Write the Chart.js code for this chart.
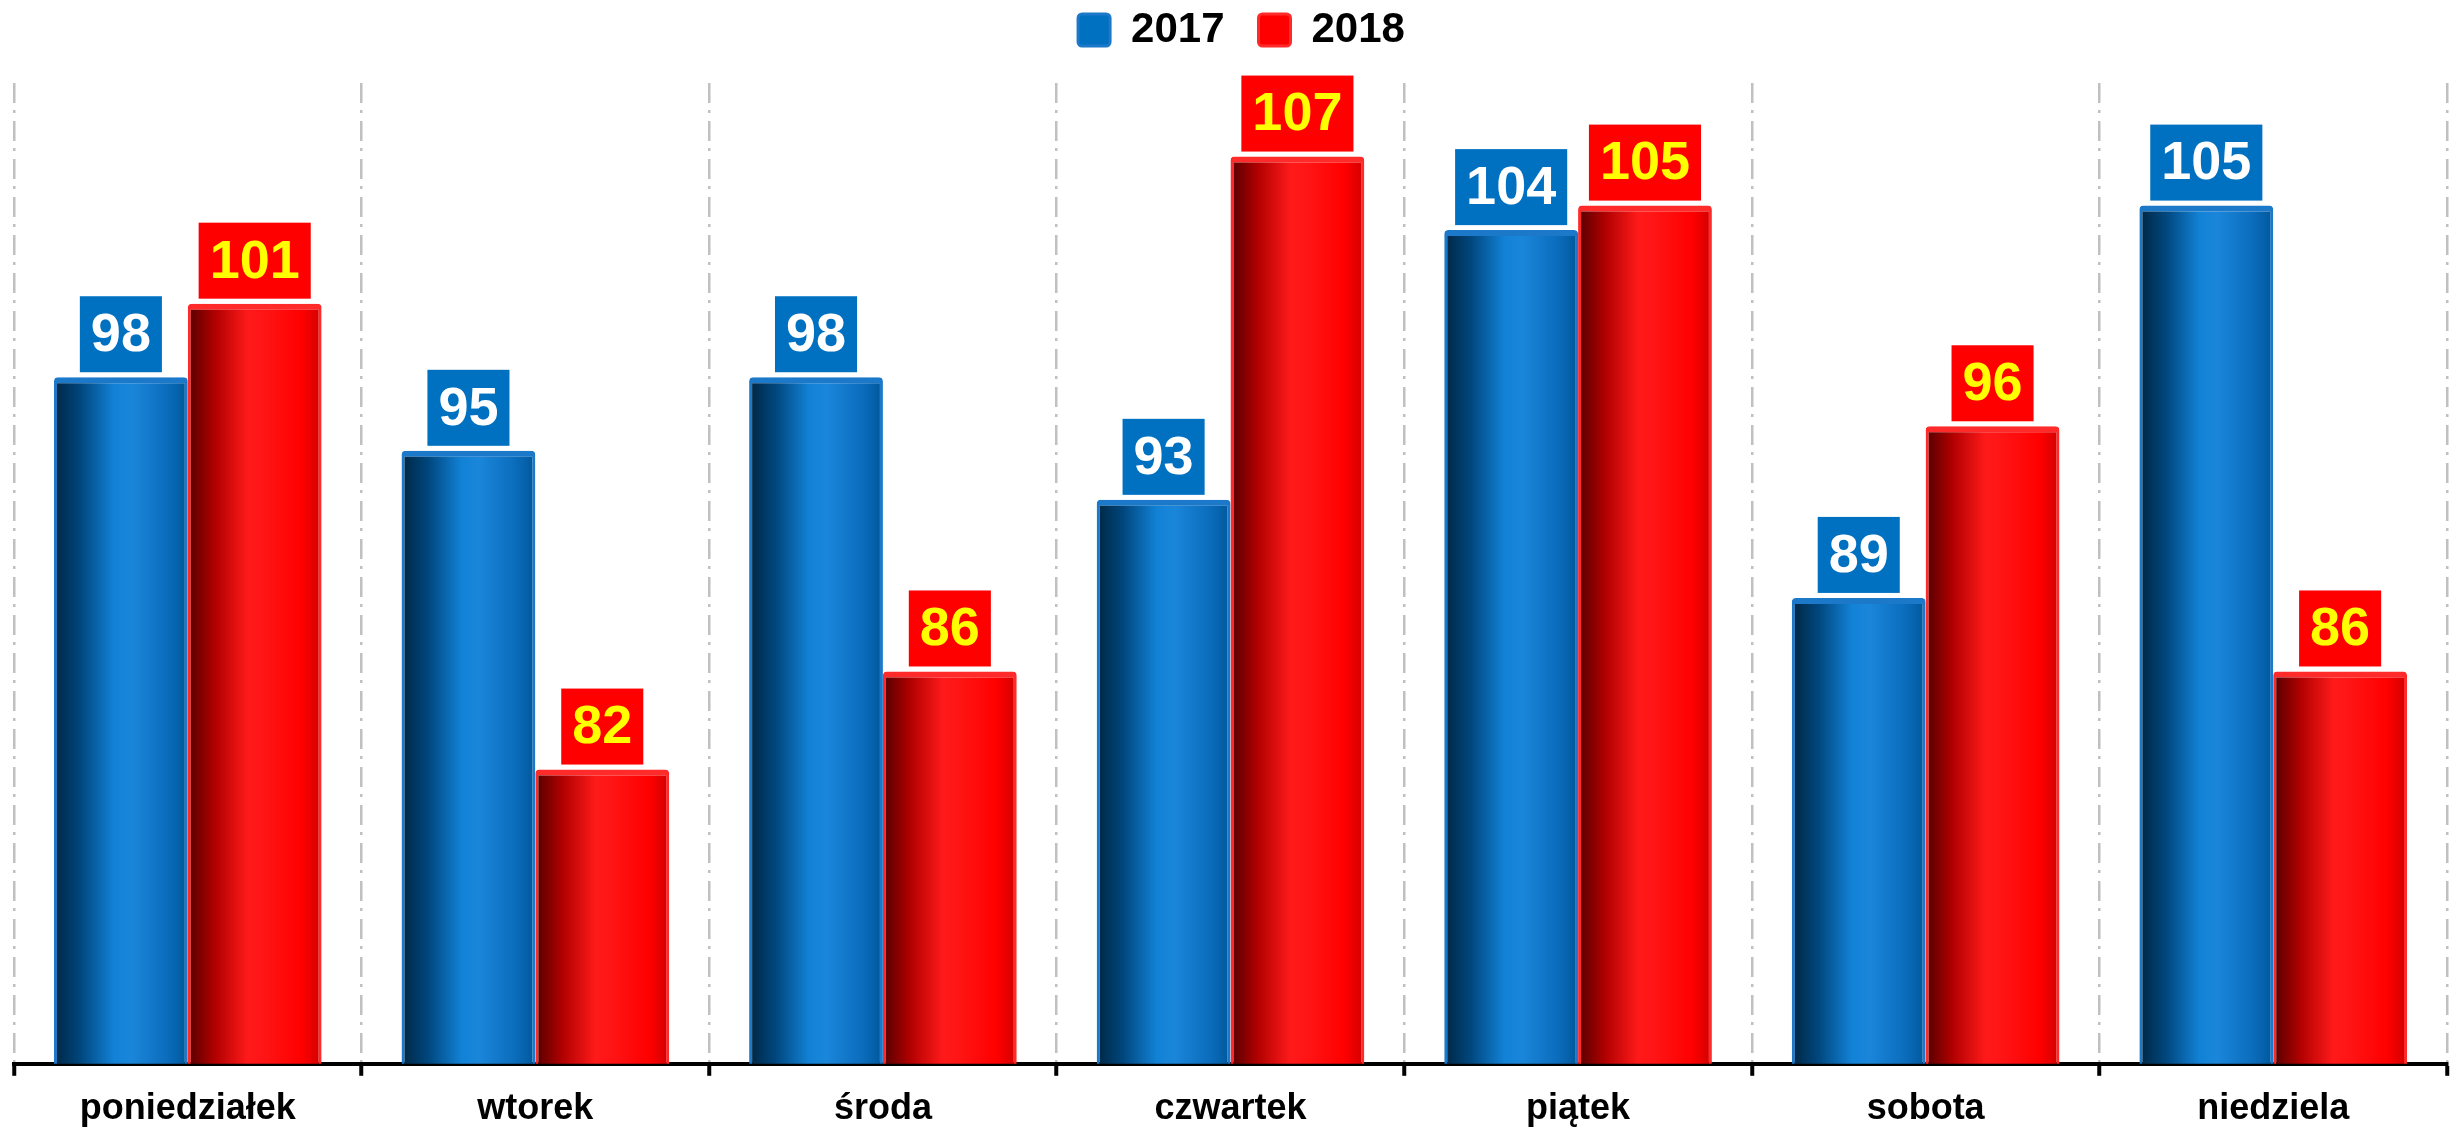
<!DOCTYPE html>
<html>
<head>
<meta charset="utf-8">
<script src="https://cdn.jsdelivr.net/npm/chart.js@4"></script>
<style>
  html, body { margin: 0; padding: 0; background: #fff; }
  #wrap { width: 2458px; height: 1129px; }
</style>
</head>
<body>
<div id="wrap"><canvas id="dayChart"></canvas></div>
<script>
  const days = ['poniedziałek', 'wtorek', 'środa', 'czwartek', 'piątek', 'sobota', 'niedziela'];
  const values2017 = [98, 95, 98, 93, 104, 89, 105];
  const values2018 = [101, 82, 86, 107, 105, 96, 86];

  const FONT = '"Liberation Sans", Arial, sans-serif';

  // cylinder-like shading for each bar, built from the bar's own position
  const shades = [
    ['#002642', '#00477e', '#1282d6', '#1a86da', '#0b6cbc', '#00579a'],
    ['#540000', '#b00000', '#ff1a1a', '#ff1414', '#ff0000', '#d00000']
  ];
  const stops = [0, 0.2, 0.45, 0.58, 0.85, 1];

  const barShading = {
    id: 'barShading',
    beforeDatasetsDraw(chart) {
      const c = chart.ctx;
      chart.data.datasets.forEach((ds, di) => {
        chart.getDatasetMeta(di).data.forEach(el => {
          const g = c.createLinearGradient(el.x - el.width / 2, 0, el.x + el.width / 2, 0);
          stops.forEach((s, k) => g.addColorStop(s, shades[di][k]));
          const opts = Object.assign({}, el.options);
          opts.backgroundColor = g;
          el.options = opts;
        });
      });
    }
  };

  // value boxes above the bars
  const valueBoxes = {
    id: 'valueBoxes',
    afterDatasetsDraw(chart) {
      const c = chart.ctx;
      const boxFill = ['#0070c0', '#ff0000'];
      const textFill = ['#ffffff', '#ffff00'];
      c.save();
      c.font = 'bold 54px ' + FONT;
      c.textAlign = 'center';
      c.textBaseline = 'middle';
      chart.data.datasets.forEach((ds, di) => {
        chart.getDatasetMeta(di).data.forEach((el, i) => {
          const txt = String(ds.data[i]);
          const w = c.measureText(txt).width + 22;
          const h = 76;
          const bottom = el.y - 5;
          c.fillStyle = boxFill[di];
          c.fillRect(el.x - w / 2, bottom - h, w, h);
          c.fillStyle = textFill[di];
          c.fillText(txt, el.x, bottom - h / 2 + 2);
        });
      });
      c.restore();
    }
  };

  const legendSpace = {
    id: 'legendSpace',
    beforeInit(chart) {
      const fit = chart.legend.fit;
      chart.legend.fit = function () {
        fit.call(this);
        this.height += 22;
      };
    },
    afterLayout(chart) {
      // legend sits a little right of centre in the original
      chart.legend.left += 11;
      chart.legend.right += 11;
    }
  };

  new Chart(document.getElementById('dayChart'), {
    type: 'bar',
    data: {
      labels: days,
      datasets: [
        {
          label: '2017',
          data: values2017,
          backgroundColor: '#0070c0',
          borderColor: '#1c78c8',
          borderWidth: { top: 6, left: 3, right: 3, bottom: 0 },
          borderRadius: { topLeft: 4, topRight: 4 },
          borderSkipped: false,
          categoryPercentage: 0.77,
          barPercentage: 1.0
        },
        {
          label: '2018',
          data: values2018,
          backgroundColor: '#ff0000',
          borderColor: '#ff2a2a',
          borderWidth: { top: 6, left: 3, right: 3, bottom: 0 },
          borderRadius: { topLeft: 4, topRight: 4 },
          borderSkipped: false,
          categoryPercentage: 0.77,
          barPercentage: 1.0
        }
      ]
    },
    options: {
      responsive: true,
      maintainAspectRatio: false,
      animation: false,
      layout: { padding: { left: 14, right: 11, top: -25, bottom: 0 } },
      plugins: {
        legend: {
          position: 'top',
          labels: {
            color: '#000',
            font: { family: FONT, size: 42, weight: 'bold' },
            boxWidth: 32,
            boxHeight: 32,
            useBorderRadius: true,
            borderRadius: 4,
            padding: 34
          }
        },
        tooltip: { enabled: false }
      },
      scales: {
        x: {
          afterFit(scale) { scale.height -= 14; },
          grid: {
            offset: true,
            color: '#c0c0c0',
            lineWidth: 2.5,
            drawTicks: true,
            tickLength: 12,
            tickColor: '#000',
            tickWidth: 4,
            tickBorderDash: []
          },
          border: { display: true, color: '#000', width: 4, dash: [20, 7, 3, 8] },
          ticks: {
            color: '#000',
            font: { family: FONT, size: 36, weight: 'bold' },
            padding: 12
          }
        },
        y: {
          display: false,
          min: 70,
          max: 110
        }
      }
    },
    plugins: [barShading, valueBoxes, legendSpace]
  });
</script>
</body>
</html>
